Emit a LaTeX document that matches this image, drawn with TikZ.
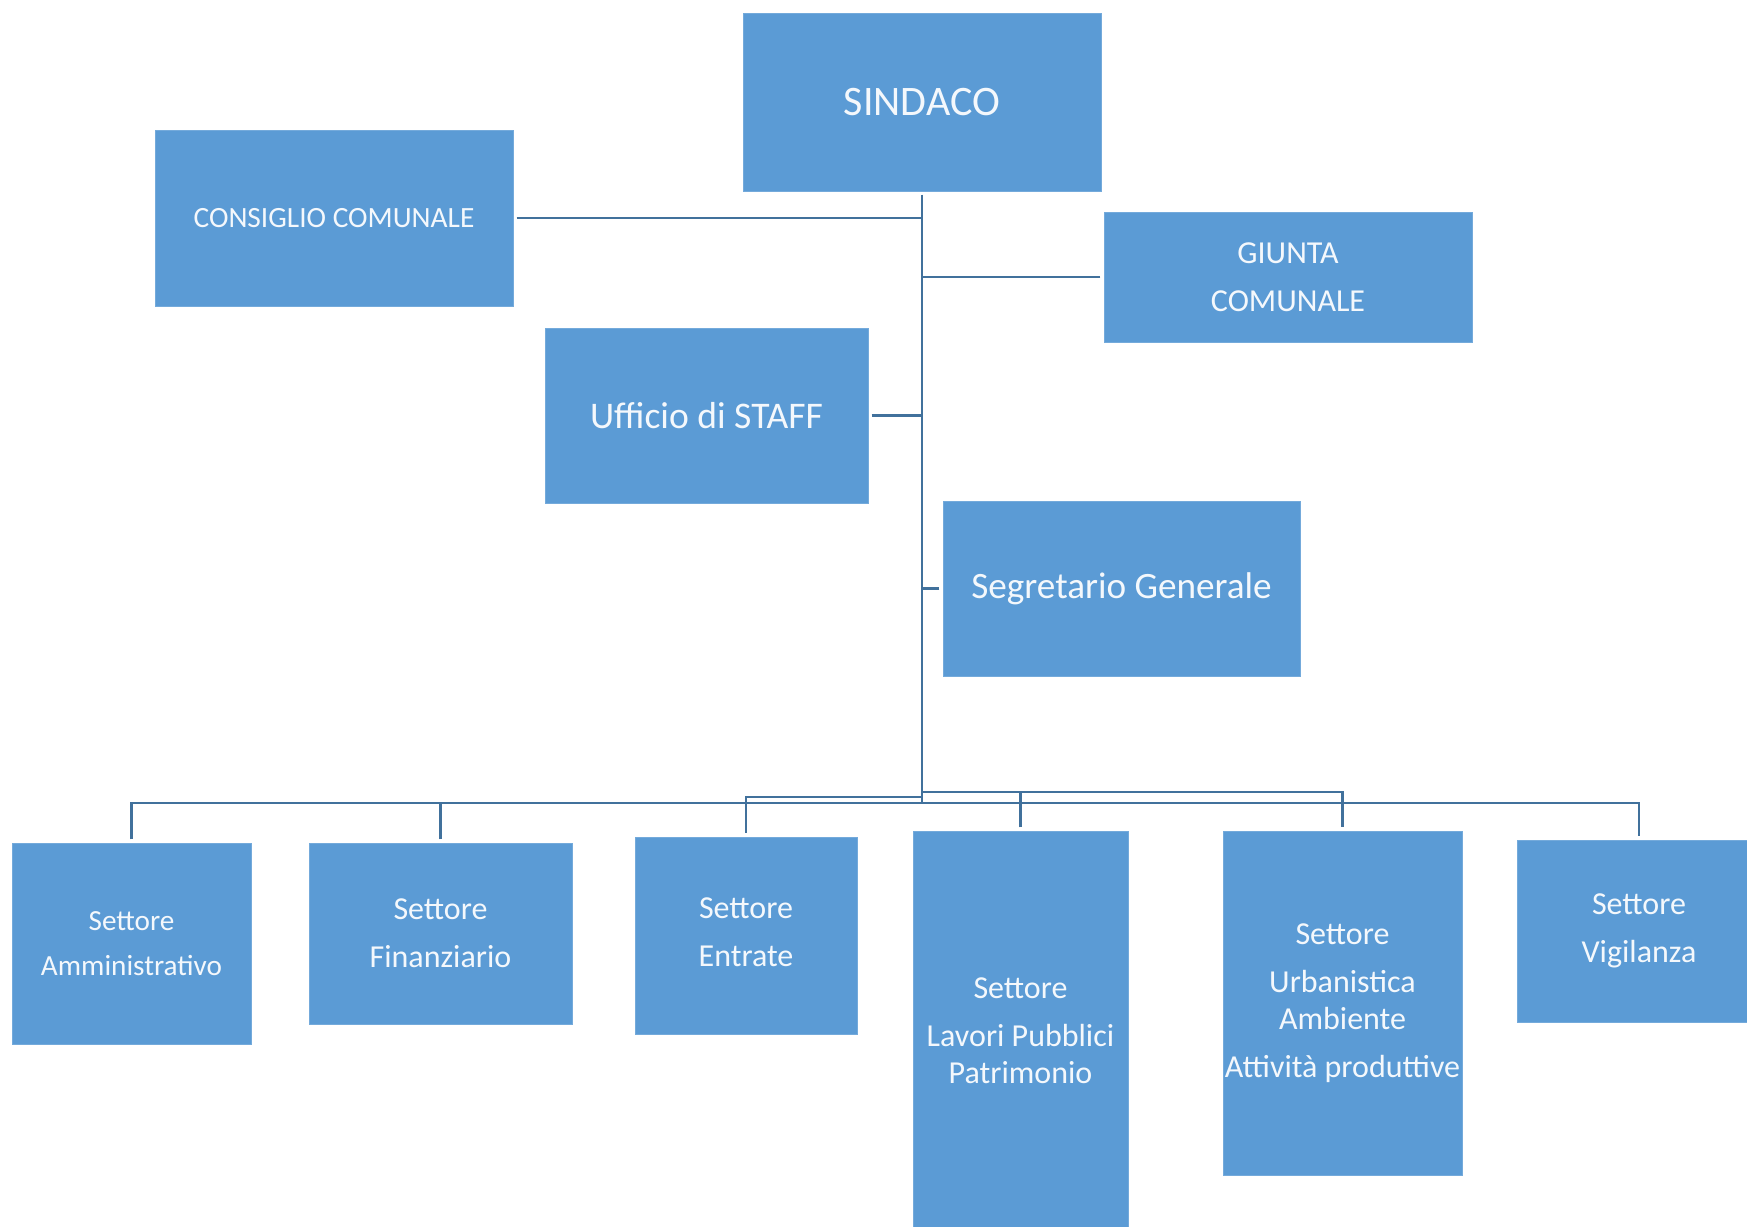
\documentclass[tikz,border=0pt]{standalone}
\usepackage{fontspec}
\setmainfont{Carlito}
\definecolor{boxfill}{HTML}{5B9BD5}
\definecolor{linecol}{HTML}{41719C}
\definecolor{boxtext}{HTML}{F4F8FC}
\tikzset{
  orgbox/.style={fill=boxfill, draw=boxfill!85!white, line width=0.4pt, text=boxtext, align=center, inner sep=0pt, outer sep=1.8pt},
  conn/.style={draw=linecol, line width=1.2pt},
  fsA/.style={font=\fontsize{16}{18.4}\selectfont},
}
\begin{document}
\begin{tikzpicture}[x=0.5pt,y=-0.5pt]
\useasboundingbox (0,0) rectangle (1747,1227);
\clip (0,0) rectangle (1747,1227);
\fill[white] (0,0) rectangle (1747,1227);

% top level
\node[orgbox, minimum width=179pt, minimum height=89pt, font=\fontsize{21}{24}\selectfont] (sind) at (922,102) {SINDACO};
\node[orgbox, minimum width=179pt, minimum height=88pt, font=\fontsize{14.7}{17}\selectfont] (cons) at (334,218) {CONSIGLIO COMUNALE};
\node[orgbox, minimum width=184pt, minimum height=65pt, fsA] (giun) at (1288,277) {GIUNTA\\[5.6pt]COMUNALE};
\node[orgbox, minimum width=161.5pt, minimum height=87.5pt, font=\fontsize{18.8}{22}\selectfont] (staff) at (706.5,415.5) {Ufficio di STAFF};
\node[orgbox, minimum width=178.5pt, minimum height=87.5pt, font=\fontsize{18.6}{22}\selectfont] (segr) at (1121.5,588.5) {Segretario Generale};

% settori
\node[orgbox, minimum width=119.5pt, minimum height=100.5pt, font=\fontsize{14.6}{17}\selectfont] (amm) at (131.5,943.5) {Settore\\[5.3pt]Amministrativo};
\node[orgbox, minimum width=131.5pt, minimum height=90.5pt, fsA] (fin) at (440.5,933.5) {Settore\\[5.6pt]Finanziario};
\node[orgbox, minimum width=111pt, minimum height=98.5pt, fsA] (ent) at (746,935.5) {\raisebox{1.7pt}{\begin{tabular}{@{}c@{}}Settore\\[5.6pt]Entrate\end{tabular}}};
\node[orgbox, minimum width=107.5pt, minimum height=200pt, fsA] (lav) at (1020.5,1031) {Settore\\[5.6pt]Lavori Pubblici\\Patrimonio};
\node[orgbox, minimum width=119.5pt, minimum height=172pt, fsA] (urb) at (1342.5,1003) {Settore\\[5.6pt]Urbanistica\\Ambiente\\[5.6pt]Attività produttive};
\node[orgbox, minimum width=122pt, minimum height=91pt, fsA] (vig) at (1639,931) {\raisebox{-1.4pt}{\begin{tabular}{@{}c@{}}Settore\\[5.6pt]Vigilanza\end{tabular}}};

% bus coordinates
\coordinate (bus) at (922,803);
\coordinate (busE) at (922,797);
\coordinate (busL) at (922,792);

% connectors
\draw[conn] (sind.south) -- (bus);
\draw[conn] (cons.east) -- (cons.east -| bus);
\draw[conn] (giun.west) -- (giun.west -| bus);
\draw[conn] (staff.east) -- (staff.east -| bus);
\draw[conn] (segr.west) -- (segr.west -| bus);

\draw[conn] (amm.north) -- (amm.north |- bus) -- (vig.north |- bus) -- (vig.north);
\draw[conn] (fin.north) -- (fin.north |- bus);
\draw[conn] (bus) -- (busE) -- (ent.north |- busE) -- (ent.north);
\draw[conn] (busE) -- (busL) -- (urb.north |- busL) -- (urb.north);
\draw[conn] (lav.north) -- (lav.north |- busL);
\end{tikzpicture}
\end{document}
